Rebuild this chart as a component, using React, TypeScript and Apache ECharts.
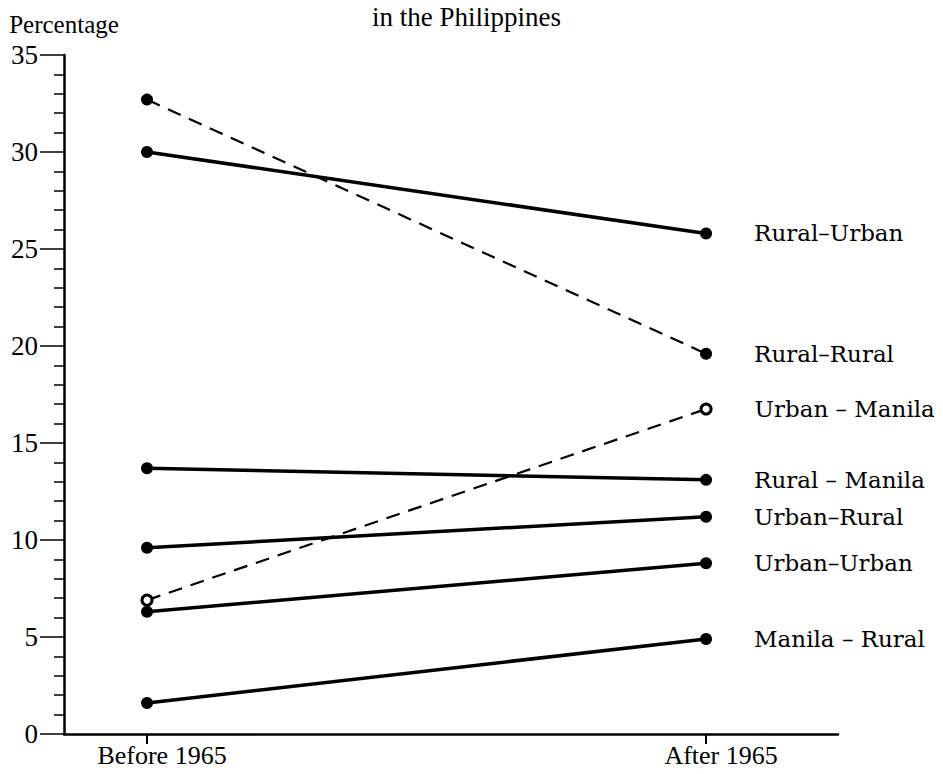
import React, { useEffect, useRef } from "react";
import * as echarts from "echarts";

const periods = ["Before 1965", "After 1965"];
const seriesNames = [
  "Rural–Urban",
  "Rural–Rural",
  "Urban – Manila",
  "Rural – Manila",
  "Urban–Rural",
  "Urban–Urban",
  "Manila – Rural",
];
const beforeValues = [30.0, 32.7, 6.9, 13.7, 9.6, 6.3, 1.6];
const afterValues = [25.8, 19.6, 16.75, 13.1, 11.2, 8.8, 4.9];
const dashed = [false, true, true, false, false, false, false];
const hollow = [false, false, true, false, false, false, false];
const yTicks = [0, 5, 10, 15, 20, 25, 30, 35];

export default function App() {
  const ref = useRef<HTMLDivElement>(null);
  useEffect(() => {
    if (!ref.current) return;
    const chart = echarts.init(ref.current, null, { renderer: "svg" });
    const serif = "Liberation Serif";
    const series = seriesNames.map((name, i) => ({
      type: "line",
      name,
      symbol: "circle",
      symbolSize: hollow[i] ? 10 : 12,
      itemStyle: hollow[i]
        ? { color: "#fff", borderColor: "#000", borderWidth: 3 }
        : { color: "#000" },
      lineStyle: {
        color: "#000",
        width: dashed[i] ? 2.2 : 3.5,
        type: dashed[i] ? [14, 9] : "solid",
      },
      data: [
        [0, beforeValues[i]],
        {
          value: [1, afterValues[i]],
          label: {
            show: true,
            position: "right",
            distance: 42,
            formatter: name,
            color: "#000",
            fontFamily: "DejaVu Serif",
            fontSize: 23,
          },
        },
      ],
    }));
    chart.setOption({
      animation: false,
      backgroundColor: "#fff",
      graphic: [
        {
          type: "text",
          left: 372,
          top: 3,
          style: {
            text: "in the Philippines",
            font: `27px "${serif}"`,
            fill: "#000",
          },
        },
      ],
      grid: { left: 64, right: 105, top: 55, bottom: 40 },
      xAxis: {
        type: "value",
        min: -0.1485,
        max: 1.236,
        splitLine: { show: false },
        axisLine: { lineStyle: { color: "#000", width: 2.5 } },
        axisTick: {
          show: true,
          customValues: [0, 1],
          length: 10,
          lineStyle: { color: "#000", width: 2 },
        },
        axisLabel: {
          customValues: [0, 1],
          formatter: (v: number) => periods[Math.round(v)],
          color: "#000",
          fontFamily: serif,
          fontSize: 26,
          margin: 8,
          padding: [0, 0, 0, 30],
        },
      },
      yAxis: {
        type: "value",
        min: 0,
        max: 35,
        interval: 5,
        name: "Percentage",
        nameLocation: "end",
        nameGap: 18,
        nameTextStyle: {
          color: "#000",
          fontFamily: serif,
          fontSize: 25,
          align: "center",
        },
        splitLine: { show: false },
        axisLine: { show: true, onZero: false, lineStyle: { color: "#000", width: 2.5 } },
        axisTick: { show: true, length: 24, lineStyle: { color: "#000", width: 1.5 } },
        minorTick: { show: true, splitNumber: 5, length: 10, lineStyle: { color: "#000", width: 1.5 } },
        axisLabel: {
          color: "#000",
          fontFamily: serif,
          fontSize: 27,
          margin: 26,
          formatter: (v: number) => (yTicks.includes(v) ? String(v) : ""),
        },
      },
      series,
    });
    return () => chart.dispose();
  }, []);
  return <div ref={ref} style={{ width: 943, height: 774, margin: -8 }} />;
}
